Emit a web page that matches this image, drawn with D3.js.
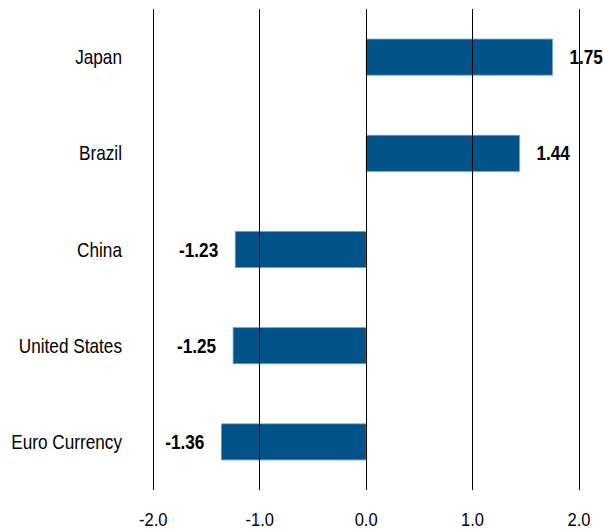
<!DOCTYPE html>
<html lang="en">
<head>
    <meta charset="UTF-8">
    <title>Bar chart</title>
    <script src="https://d3js.org/d3.v7.min.js"></script>
    <style>
        body { margin: 0; background: #fff; }
        text { font-family: "Liberation Sans", Arial, sans-serif; fill: #000; }
    </style>
</head>
<body>
    <script>
        var categories = ["Japan", "Brazil", "China", "United States", "Euro Currency"];
        var values = [1.75, 1.44, -1.23, -1.25, -1.36];
        var xTicks = [-2.0, -1.0, 0.0, 1.0, 2.0];

        var svgWidth = 603;
        var svgHeight = 529;
        var top_ = 9, bottom_ = 490;
        // text in the original is a narrow face, so squeeze it a bit
        var squeeze = 0.86;

        // plain hyphen for negatives, like the original (d3 uses U+2212)
        var fmt1 = d3.formatLocale({decimal: ".", thousands: ",", grouping: [3], currency: ["", ""], minus: "-"}).format(".1f");
        var fmt2 = d3.formatLocale({decimal: ".", thousands: ",", grouping: [3], currency: ["", ""], minus: "-"}).format(".2f");

        var svg = d3.select("body")
                    .append("svg")
                    .attr("width", svgWidth)
                    .attr("height", svgHeight);

        var x = d3.scaleLinear().domain([-2, 2]).range([153.3, 579]);
        var y = d3.scaleBand()
                  .domain(categories)
                  .range([top_, bottom_])
                  .paddingInner(0.625)
                  .paddingOuter(0.3125);

        // bars
        svg.append("g").selectAll("rect")
            .data(values)
            .enter()
            .append("rect")
            .attr("x", function(d){ return x(Math.min(0, d)); })
            .attr("y", function(d, i){ return y(categories[i]); })
            .attr("width", function(d){ return Math.abs(x(d) - x(0)); })
            .attr("height", y.bandwidth())
            .attr("fill", "#005288")
            .attr("stroke", "#6f9cc2")
            .attr("stroke-width", 0.8);

        // vertical grid lines (drawn over the bars like in the original)
        svg.append("g").selectAll("line")
            .data(xTicks)
            .enter()
            .append("line")
            .attr("x1", function(d){ return x(d); })
            .attr("x2", function(d){ return x(d); })
            .attr("y1", top_)
            .attr("y2", bottom_)
            .attr("stroke", "#000")
            .attr("stroke-width", 1)
            .attr("shape-rendering", "crispEdges");

        // tick labels
        svg.append("g").selectAll("text")
            .data(xTicks)
            .enter()
            .append("text")
            .attr("transform", function(d){ return "translate(" + x(d) + ",526) scale(0.92,1)"; })
            .attr("text-anchor", "middle")
            .style("font-size", "18px")
            .text(function(d){ return fmt1(d); });

        // category labels
        svg.append("g").selectAll("text")
            .data(categories)
            .enter()
            .append("text")
            .attr("transform", function(d){ return "translate(122," + (y(d) + y.bandwidth() / 2 + 7) + ") scale(" + squeeze + ",1)"; })
            .attr("text-anchor", "end")
            .style("font-size", "20px")
            .text(function(d){ return d; });

        // value labels
        svg.append("g").selectAll("text")
            .data(values)
            .enter()
            .append("text")
            .attr("transform", function(d, i){
                var px = d >= 0 ? x(d) + 17 : x(d) - 17;
                return "translate(" + px + "," + (y(categories[i]) + y.bandwidth() / 2 + 7) + ") scale(" + squeeze + ",1)";
            })
            .attr("text-anchor", function(d){ return d >= 0 ? "start" : "end"; })
            .style("font-size", "20px")
            .style("font-weight", "bold")
            .text(function(d){ return fmt2(d); });
    </script>
</body>
</html>
